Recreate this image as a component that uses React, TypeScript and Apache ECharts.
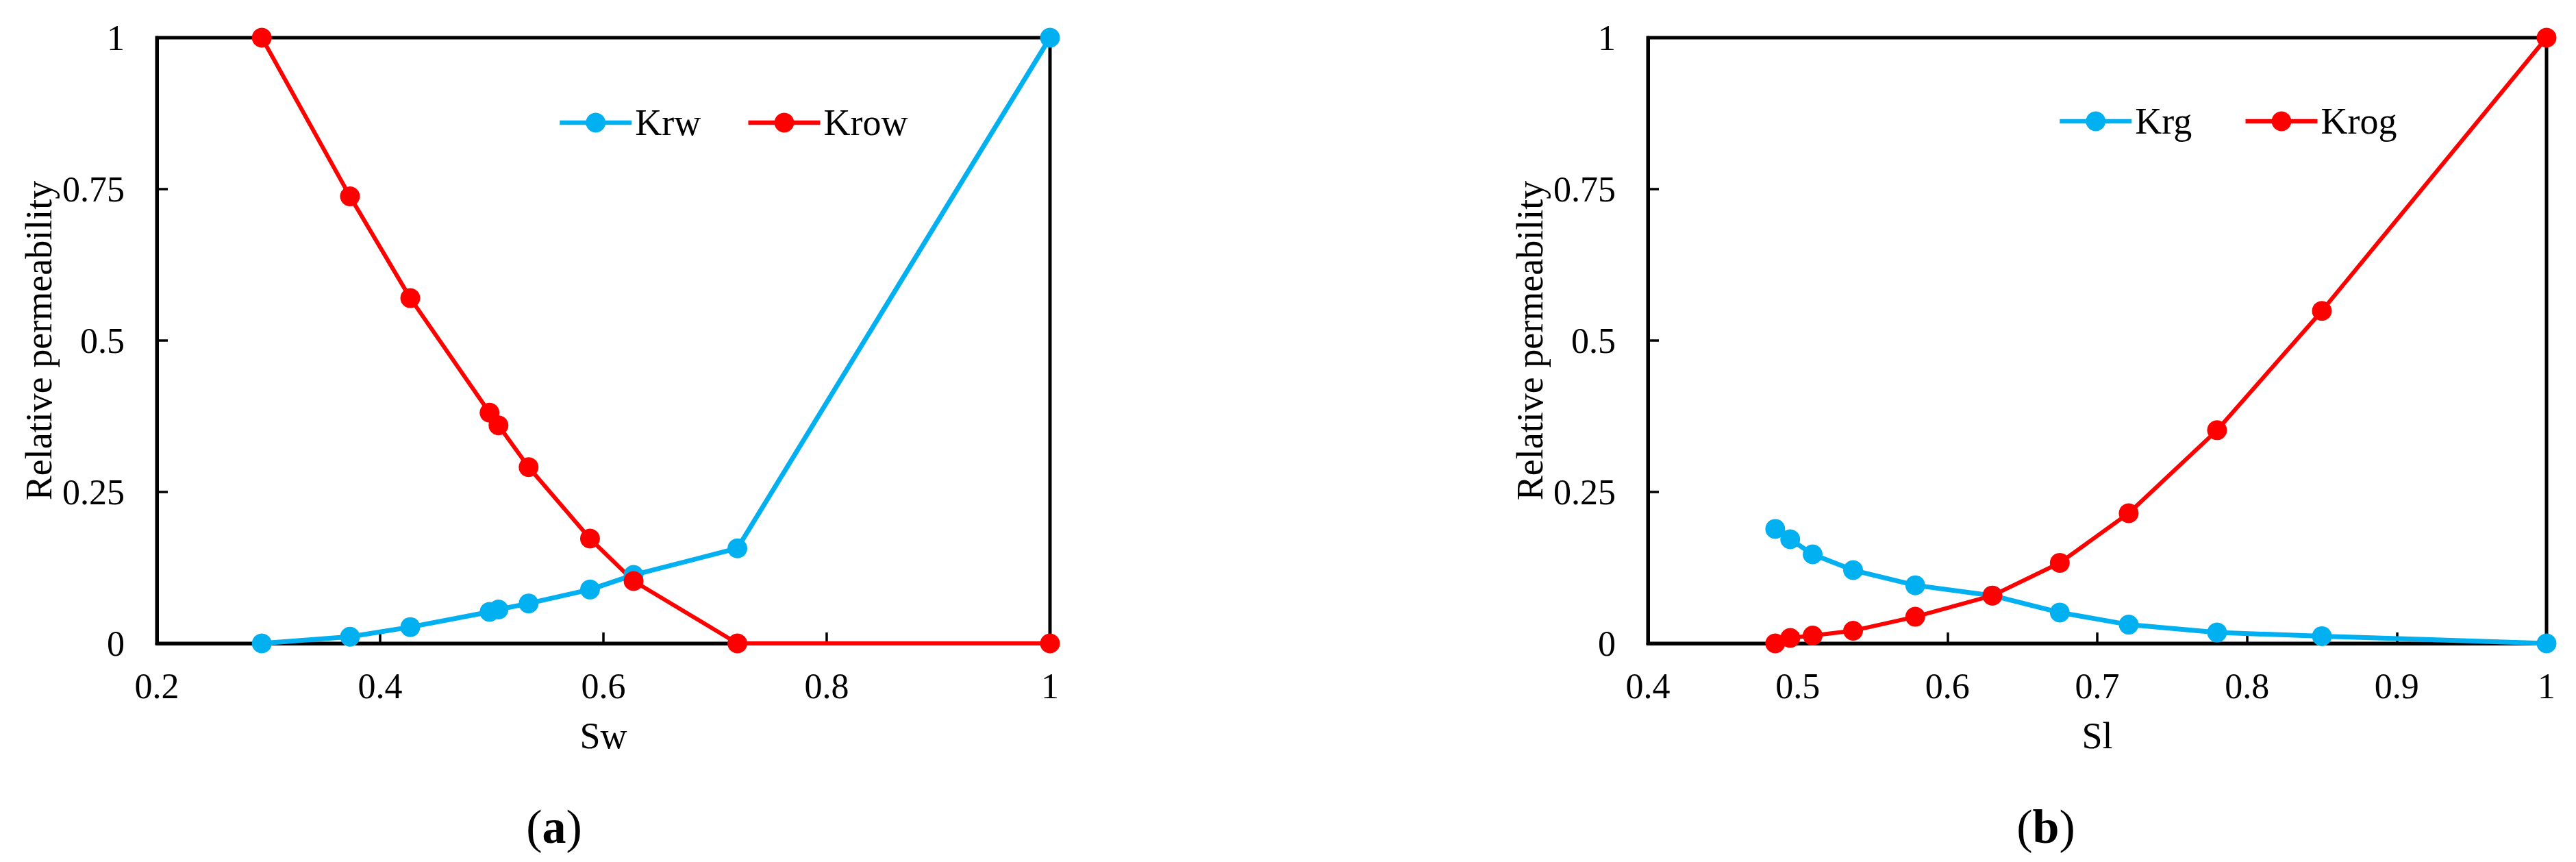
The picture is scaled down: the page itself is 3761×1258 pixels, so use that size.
import React, { useEffect, useRef } from "react";
import * as echarts from "echarts";

// Panel (a)
const swA = [0.294, 0.373, 0.427, 0.498, 0.506, 0.533, 0.588, 0.627, 0.72, 1.0];
const krw = [0, 0.011, 0.027, 0.052, 0.056, 0.066, 0.089, 0.113, 0.157, 1.0];
const krow = [1, 0.738, 0.57, 0.381, 0.36, 0.291, 0.173, 0.103, 0, 0];

// Panel (b)
const slB = [0.485, 0.495, 0.51, 0.537, 0.5785, 0.63, 0.675, 0.721, 0.78, 0.85, 1.0];
const krg = [0.189, 0.172, 0.147, 0.121, 0.096, 0.079, 0.051, 0.031, 0.018, 0.012, 0];
const krog = [0, 0.009, 0.013, 0.021, 0.044, 0.079, 0.133, 0.215, 0.352, 0.549, 1];

const seriesNamesA = ["Krw", "Krow"];
const seriesNamesB = ["Krg", "Krog"];
const xNames = ["Sw", "Sl"];
const yName = "Relative permeability";
const panelLabels = ["a", "b"];

const FONT = "Liberation Serif, Times New Roman, serif";
const BLUE = "#00B0F0";
const RED = "#FF0000";

const zip = (xs: number[], ys: number[]) => xs.map((x, i) => [x, ys[i]]);

export default function App() {
  const ref = useRef<HTMLDivElement>(null);

  useEffect(() => {
    if (!ref.current) return;
    const chart = echarts.init(ref.current, null, { renderer: "svg" });

    const axisCommon = {
      axisLine: { show: true, lineStyle: { color: "#000", width: 5 } },
      axisTick: { show: true, inside: true, length: 16, lineStyle: { color: "#000", width: 3.5 } },
      splitLine: { show: false },
      axisLabel: { color: "#000", fontSize: 52, fontFamily: FONT },
      nameTextStyle: { color: "#000", fontSize: 54, fontFamily: FONT },
    };

    const xAxis = [
      { ...axisCommon, type: "value", gridIndex: 0, min: 0.2, max: 1, interval: 0.2,
        axisLabel: { ...axisCommon.axisLabel, margin: 36 },
        name: xNames[0], nameLocation: "middle", nameGap: 108 },
      { ...axisCommon, type: "value", gridIndex: 1, min: 0.4, max: 1, interval: 0.1,
        axisLabel: { ...axisCommon.axisLabel, margin: 36 },
        name: xNames[1], nameLocation: "middle", nameGap: 108 },
    ];
    const yAxis = [0, 1].map((g) => ({
      ...axisCommon, type: "value", gridIndex: g, min: 0, max: 1, interval: 0.25,
      axisLabel: { ...axisCommon.axisLabel, margin: 47 },
      name: yName, nameLocation: "middle", nameGap: 145,
    }));

    const mkSeries = (name: string, x: number[], y: number[], idx: number, color: string, w: number) => ({
      type: "line", name, xAxisIndex: idx, yAxisIndex: idx,
      data: zip(x, y), symbol: "circle", symbolSize: 29, clip: false,
      lineStyle: { color, width: w }, itemStyle: { color },
    });

    const legendText = { color: "#000", fontSize: 54, fontFamily: FONT };

    chart.setOption({
      animation: false,
      backgroundColor: "#fff",
      grid: [
        { left: 229, top: 55, width: 1304, height: 884, show: true, borderColor: "#000", borderWidth: 5, containLabel: false },
        { left: 2406, top: 55, width: 1312, height: 884, show: true, borderColor: "#000", borderWidth: 5, containLabel: false },
      ],
      xAxis,
      yAxis,
      legend: [
        { data: seriesNamesA, left: 809, top: 147, itemWidth: 105, itemHeight: 36, itemGap: 66,
          textStyle: legendText, lineStyle: { width: 6.5 } },
        { data: seriesNamesB, left: 2999, top: 145, itemWidth: 105, itemHeight: 36, itemGap: 75,
          textStyle: legendText, lineStyle: { width: 6.5 } },
      ],
      title: [
        { text: "({b|" + panelLabels[0] + "})", left: 804, top: 1166, textAlign: "center",
          textStyle: { fontSize: 70, fontFamily: FONT, color: "#000", fontWeight: "normal",
            rich: { b: { fontSize: 70, fontFamily: FONT, fontWeight: "bold", color: "#000" } } } },
        { text: "({b|" + panelLabels[1] + "})", left: 2982, top: 1166, textAlign: "center",
          textStyle: { fontSize: 70, fontFamily: FONT, color: "#000", fontWeight: "normal",
            rich: { b: { fontSize: 70, fontFamily: FONT, fontWeight: "bold", color: "#000" } } } },
      ],
      series: [
        mkSeries(seriesNamesA[0], swA, krw, 0, BLUE, 7),
        mkSeries(seriesNamesA[1], swA, krow, 0, RED, 6),
        mkSeries(seriesNamesB[0], slB, krg, 1, BLUE, 7),
        mkSeries(seriesNamesB[1], slB, krog, 1, RED, 6),
      ],
    });

    return () => chart.dispose();
  }, []);

  return (
    <div
      ref={ref}
      style={{ position: "absolute", left: 0, top: 0, width: 3761, height: 1258, background: "#fff" }}
    />
  );
}
